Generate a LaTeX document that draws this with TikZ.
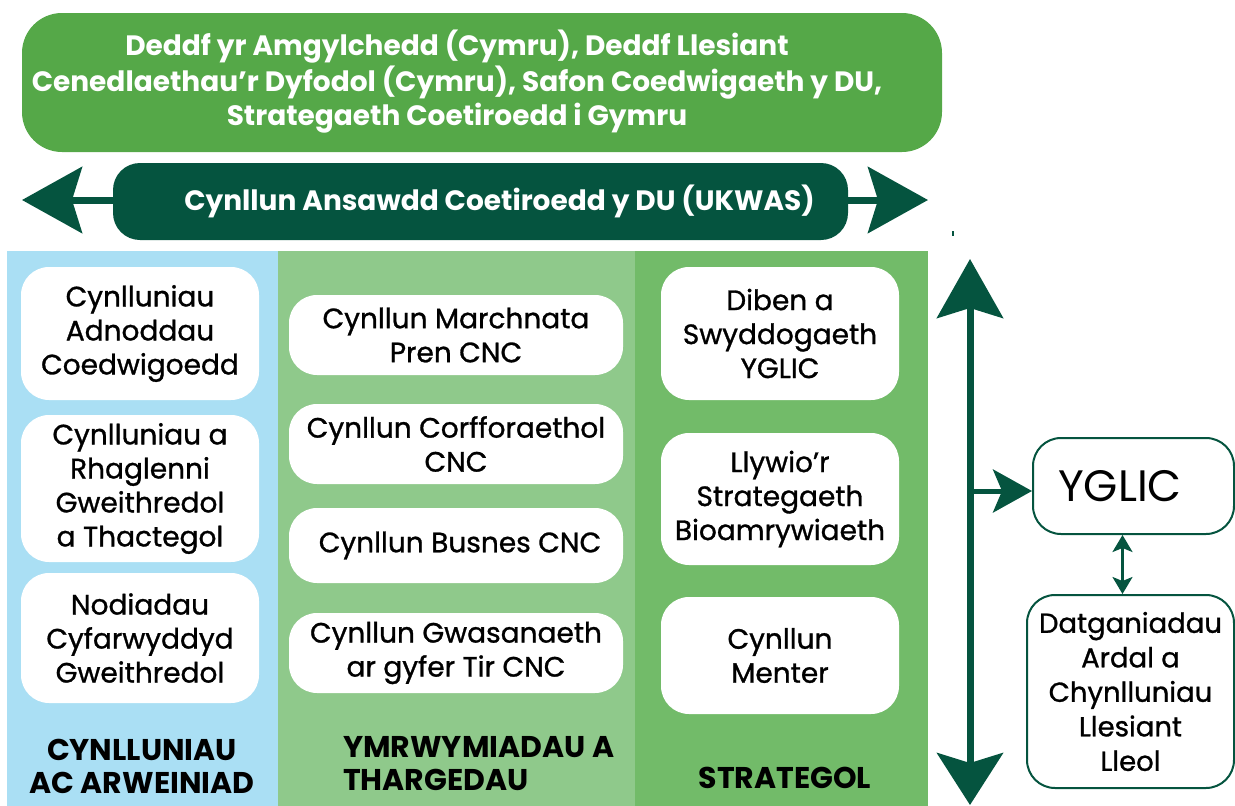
\documentclass[tikz,border=0pt]{standalone}
\usepackage{fontspec}
\setmainfont{Poppins}
\newfontfamily\boxfont{Poppins}[FakeBold=1]
\usetikzlibrary{arrows.meta}

\definecolor{lawgreen}{HTML}{55A848}
\definecolor{deepgreen}{HTML}{05543F}
\definecolor{colblue}{HTML}{AADFF4}
\definecolor{colmid}{HTML}{8FC98B}
\definecolor{colright}{HTML}{72BB69}

\tikzset{
  planbox/.style={fill=white, rounded corners=28pt, align=center, inner sep=0pt,
    font=\boxfont\fontsize{28}{34}\selectfont},
  bandbox/.style={rounded corners=40pt, align=center, inner sep=0pt, text=white,
    font=\bfseries\fontsize{28}{34}\selectfont},
  sidebox/.style={draw=deepgreen, line width=2pt, fill=white, rounded corners=28pt,
    align=center, inner sep=0pt, font=\boxfont\fontsize{27.5}{34.5}\selectfont},
  collabel/.style={font=\bfseries\fontsize{30}{33}\selectfont, inner sep=0pt},
  bigtip/.style={draw=deepgreen, line width=7pt,
    -{Stealth[length=60pt,width=66pt,inset=10pt]}},
  bothtip/.style={draw=deepgreen, line width=7pt,
    {Stealth[length=59pt,width=66pt,inset=10pt]}-{Stealth[length=52pt,width=66pt,inset=10pt]}},
  midtip/.style={draw=deepgreen, line width=5pt,
    -{Stealth[length=39pt,width=43pt,inset=9pt]}},
  smalltip/.style={draw=deepgreen, line width=2.5pt,
    {Stealth[length=17pt,width=20pt,inset=4pt]}-{Stealth[length=17pt,width=20pt,inset=4pt]}}
}

\begin{document}
\begin{tikzpicture}[x=1pt,y=-1pt]
\useasboundingbox (0,0) rectangle (1235,806);

% Column backgrounds
\fill[colblue] (7,251) rectangle (278,806);
\fill[colmid] (278,251) rectangle (635,806);
\fill[colright] (635,251) rectangle (928,806);

% Legislation band
\node[bandbox, fill=lawgreen, minimum width=920pt, minimum height=139pt] (legis) at (482,82.5)
  {\begin{tabular}{@{}c@{}}Deddf yr Amgylchedd (Cymru), Deddf Llesiant\\
   Cenedlaethau’r Dyfodol (Cymru), Safon Coedwigaeth y DU,\\
   Strategaeth Coetiroedd i Gymru\end{tabular}\hspace*{50pt}};

% UKWAS bar
\node[bandbox, fill=deepgreen, rounded corners=27pt, minimum width=735pt, minimum height=77pt] (ukwas) at (480.5,201.5)
  {\hspace*{38pt}Cynllun Ansawdd Coetiroedd y DU (UKWAS)};
\coordinate (ukleft) at (22,200);
\coordinate (ukright) at (928,200);
\draw[bigtip] (ukwas.west |- ukleft) -- (ukleft);
\draw[bigtip] (ukwas.east |- ukright) -- (ukright);
\draw[deepgreen, line width=2pt] (953,231) -- (953,236);

% Cynlluniau column
\node[planbox, minimum width=238pt, minimum height=133pt] (adnodd) at (140,333.5)
  {Cynlluniau\\Adnoddau\\Coedwigoedd};
\node[planbox, minimum width=238pt, minimum height=147pt] (rhaglen) at (140,488.5)
  {Cynlluniau a\\Rhaglenni\\Gweithredol\\a Thactegol};
\node[planbox, minimum width=238pt, minimum height=130pt] (nodiad) at (140,638)
  {Nodiadau\\Cyfarwyddyd\\Gweithredol};
\node[collabel, align=center] (colone) at (142,766.5) {CYNLLUNIAU\\AC ARWEINIAD};

% Ymrwymiadau column
\node[planbox, minimum width=334pt, minimum height=80pt] (marchnata) at (456,335)
  {Cynllun Marchnata\\Pren CNC};
\node[planbox, minimum width=334pt, minimum height=80pt] (corff) at (456,444)
  {Cynllun Corfforaethol\\CNC};
\node[planbox, minimum width=334pt, minimum height=75pt] (busnes) at (456,545.5)
  {\hspace*{8pt}Cynllun Busnes CNC};
\node[planbox, minimum width=334pt, minimum height=80pt] (gwasan) at (456,653)
  {Cynllun Gwasanaeth\\ar gyfer Tir CNC};
\node[collabel, align=left, anchor=west] (coltwo) at (343,764) {YMRWYMIADAU A\\THARGEDAU};

% Strategol column
\node[planbox, minimum width=238pt, minimum height=133pt] (diben) at (780,333.5)
  {Diben a\\Swyddogaeth\\YGLIC};
\node[planbox, minimum width=238pt, minimum height=132pt] (llywio) at (780,499)
  {Llywio’r\\Strategaeth\\Bioamrywiaeth};
\node[planbox, minimum width=238pt, minimum height=117pt] (menter) at (780,655.5)
  {Cynllun\\Menter};
\node[collabel] (colthree) at (785,778) {STRATEGOL};

% Right side
\coordinate (vtop) at (970,259);
\coordinate (vbot) at (970,805);
\draw[bothtip] (vtop) -- (vbot);
\node[sidebox, minimum width=201pt, minimum height=96pt, font=\fontsize{44}{46}\selectfont] (yglic) at (1133.5,486)
  {YGLIC\hspace*{27pt}};
\coordinate (vmid) at (970,491);
\draw[midtip] (vmid) -- (vmid -| yglic.west);
\node[sidebox, minimum width=207pt, minimum height=193pt] (datgan) at (1130.5,691.5)
  {Datganiadau\\Ardal a\\Chynlluniau\\Llesiant\\Lleol};
\draw[smalltip] ([xshift=-11pt]yglic.south) -- ([xshift=-8pt]datgan.north);

\end{tikzpicture}
\end{document}
